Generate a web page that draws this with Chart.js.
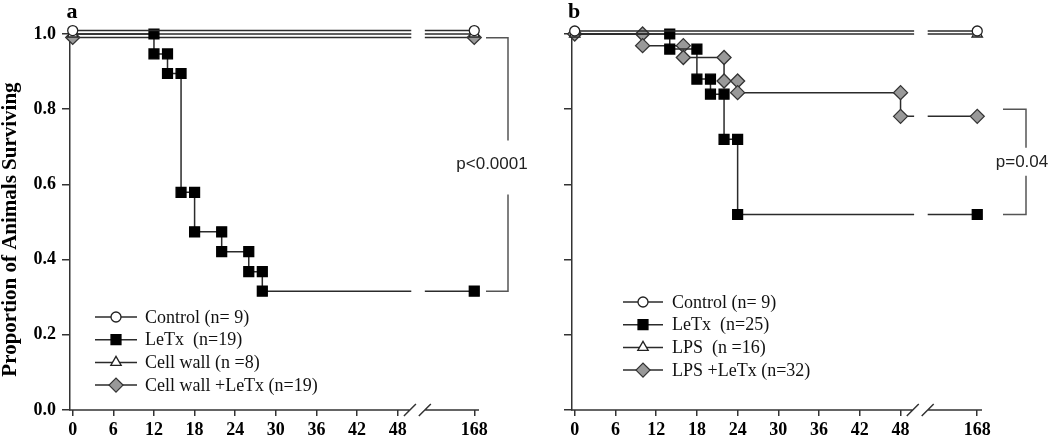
<!DOCTYPE html>
<html>
<head>
<meta charset="utf-8">
<script src="https://cdn.jsdelivr.net/npm/chart.js@4.4.1/dist/chart.umd.min.js"></script>
<style>
  body { margin: 0; background: #fff; }
  #wrap { position: relative; width: 1050px; height: 440px; }
  .panel { position: absolute; top: 0; height: 440px; }
  #pa { left: 0; width: 540px; }
  #pb { left: 525px; width: 525px; }
</style>
</head>
<body>
<div id="wrap">
  <div class="panel" id="pa"><canvas id="chartA"></canvas></div>
  <div class="panel" id="pb"><canvas id="chartB"></canvas></div>
</div>
<script>
// x axis ticks in hours (168 h sits after the axis break)
const xTickHours = [0, 6, 12, 18, 24, 30, 36, 42, 48, 168];
const yTicks = [0, 0.2, 0.4, 0.6, 0.8, 1.0];
const yTitle = 'Proportion of Animals Surviving';

// panel a
const aLabels = ['Control (n= 9)', 'LeTx  (n=19)', 'Cell wall (n =8)', 'Cell wall +LeTx (n=19)'];
const aControlHours = [0, 168];
const aControlSurv = [1.009, 1.009];
const aLetxHours = [0, 12, 12, 14, 14, 16, 16, 18, 18, 22, 22, 26, 26, 28, 28, 168];
const aLetxSurv = [1.0, 1.0, 0.947, 0.947, 0.895, 0.895, 0.579, 0.579, 0.474, 0.474, 0.421, 0.421, 0.368, 0.368, 0.316, 0.316];
const aWallHours = [0, 168];
const aWallSurv = [1.0, 1.0];
const aWallLetxHours = [0, 168];
const aWallLetxSurv = [0.991, 0.991];

// panel b
const bLabels = ['Control (n= 9)', 'LeTx  (n=25)', 'LPS  (n =16)', 'LPS +LeTx (n=32)'];
const bControlHours = [0, 168];
const bControlSurv = [1.008, 1.008];
const bLetxHours = [0, 14, 14, 18, 18, 20, 20, 22, 22, 24, 24, 168];
const bLetxSurv = [1.0, 1.0, 0.96, 0.96, 0.88, 0.88, 0.84, 0.84, 0.72, 0.72, 0.52, 0.52];
const bLpsHours = [0, 168];
const bLpsSurv = [1.0, 1.0];
const bLpsLetxHours = [0, 10, 10, 16, 16, 22, 22, 24, 24, 48, 48, 168];
const bLpsLetxSurv = [1.0, 1.0, 0.969, 0.969, 0.9375, 0.9375, 0.875, 0.875, 0.844, 0.844, 0.781, 0.781];

// broken axis: 0-48 h linear, then a gap, then 168 h
const BREAK_L = 50, BREAK_R = 52, POS_168 = 59.3;
function toAxis(h) { return h > 48 ? POS_168 : h; }

function buildPoints(hours, surv) {
    const pts = [];
    for (let i = 0; i < hours.length; i++) {
        if (i > 0 && hours[i] > 48 && hours[i - 1] <= 48) {
            pts.push({ x: BREAK_L, y: surv[i - 1], gap: true });
            pts.push({ x: 51, y: null, gap: true });
            pts.push({ x: BREAK_R, y: surv[i], gap: true });
        }
        pts.push({ x: toAxis(hours[i]), y: surv[i], idx: i });
    }
    return pts;
}

const LINE = '#2b2b2b';
const SERIF = "'Liberation Serif', 'Times New Roman', serif";
const SANS = "'Liberation Sans', Arial, sans-serif";

const styles = [
    { pointStyle: 'circle', radius: 5, fill: '#fff', stroke: '#222' },
    { pointStyle: 'rect', radius: 7, fill: '#000', stroke: '#000', skipFirst: true },
    { pointStyle: 'triangle', radius: 6, fill: '#fff', stroke: '#222' },
    { pointStyle: 'rectRot', radius: 7, fill: '#999', stroke: '#333' }
];

function makeDataset(label, hours, surv, st) {
    return {
        label: label,
        data: buildPoints(hours, surv),
        borderColor: LINE,
        borderWidth: 1.5,
        tension: 0,
        spanGaps: false,
        clip: false,
        pointStyle: st.pointStyle,
        pointBackgroundColor: st.fill,
        pointBorderColor: st.stroke,
        pointBorderWidth: 1.3,
        pointRadius: ctx => {
            const r = ctx.raw;
            if (!r || r.gap) return 0;
            if (st.skipFirst && r.idx === 0) return 0;
            return st.radius;
        },
        legendStyle: st
    };
}

function drawMarker(ctx, st, x, y) {
    ctx.fillStyle = st.fill;
    ctx.strokeStyle = st.stroke;
    ctx.lineWidth = 1.3;
    Chart.helpers.drawPoint(ctx, { pointStyle: st.pointStyle, radius: st.radius, rotation: 0, borderWidth: 1.3 }, x, y);
}

// axis break, legend, p-value bracket, axis title and panel letter
const decor = {
    id: 'decor',
    afterDatasetsDraw(chart, args, opts) {
        const { ctx, chartArea: area } = chart;
        const x = chart.scales.x, y = chart.scales.y;
        ctx.save();

        // x axis line with break
        ctx.strokeStyle = '#333';
        ctx.lineWidth = 1.5;
        const bl = x.getPixelForValue(BREAK_L - 0.2), br = x.getPixelForValue(BREAK_R);
        ctx.beginPath();
        ctx.moveTo(area.left - 1, area.bottom); ctx.lineTo(bl, area.bottom);
        ctx.moveTo(br, area.bottom); ctx.lineTo(area.right, area.bottom);
        [bl, br].forEach(px => {
            ctx.moveTo(px - 6, area.bottom + 6);
            ctx.lineTo(px + 6, area.bottom - 6);
        });
        ctx.stroke();

        // legend
        const lg = opts.legend;
        ctx.font = '18px ' + SERIF;
        ctx.textBaseline = 'middle';
        ctx.textAlign = 'left';
        chart.data.datasets.forEach((ds, i) => {
            const ry = lg.y + i * lg.dy;
            ctx.strokeStyle = LINE;
            ctx.lineWidth = 1.5;
            ctx.beginPath();
            ctx.moveTo(lg.x, ry); ctx.lineTo(lg.x + lg.w, ry);
            ctx.stroke();
            drawMarker(ctx, ds.legendStyle, lg.x + lg.w / 2, ry);
            ctx.fillStyle = '#111';
            ctx.fillText(ds.label, lg.textX, ry + 1);
        });

        // bracket with p value
        const b = opts.bracket;
        const top = y.getPixelForValue(b.top), bot = y.getPixelForValue(b.bottom);
        const mid = (top + bot) / 2;
        const x0 = area.right + b.x0, x1 = area.right + b.x1;
        ctx.strokeStyle = '#555';
        ctx.lineWidth = 1.5;
        ctx.beginPath();
        ctx.moveTo(x0, top); ctx.lineTo(x1, top); ctx.lineTo(x1, mid - b.gapUp);
        ctx.moveTo(x1, mid + b.gapDown); ctx.lineTo(x1, bot); ctx.lineTo(x0, bot);
        ctx.stroke();
        ctx.fillStyle = '#222';
        ctx.font = '17px ' + SANS;
        ctx.textAlign = 'center';
        ctx.fillText(b.text, area.right + b.textDx, mid);

        // y axis title (panel a only)
        if (opts.title) {
            ctx.save();
            ctx.translate(11, y.getPixelForValue(0.48));
            ctx.rotate(-Math.PI / 2);
            ctx.fillStyle = '#000';
            ctx.font = 'bold 21px ' + SERIF;
            ctx.fillText(opts.title, 0, 0);
            ctx.restore();
        }

        // panel letter
        ctx.fillStyle = '#000';
        ctx.font = 'bold 22px ' + SERIF;
        ctx.textAlign = 'center';
        ctx.fillText(opts.letter, area.left + 2, 12);
        ctx.restore();
    }
};

function makeChart(id, datasets, cfg) {
    return new Chart(document.getElementById(id), {
        type: 'line',
        data: { datasets: datasets },
        plugins: [decor],
        options: {
            responsive: true,
            maintainAspectRatio: false,
            animation: false,
            events: [],
            layout: { padding: { top: 34, right: cfg.padRight, bottom: 0, left: 0 } },
            plugins: {
                legend: { display: false },
                tooltip: { enabled: false },
                decor: { legend: cfg.legend, bracket: cfg.bracket, letter: cfg.letter, title: cfg.title }
            },
            scales: {
                x: {
                    type: 'linear',
                    min: -0.4,
                    max: 60,
                    afterBuildTicks: s => { s.ticks = xTickHours.map(h => ({ value: toAxis(h) })); },
                    afterFit: s => { s.height = 30; },
                    ticks: {
                        autoSkip: false,
                        maxRotation: 0,
                        padding: 4,
                        color: '#000',
                        font: { family: SERIF, size: 18, weight: 'bold' },
                        callback: (v, i) => String(xTickHours[i])
                    },
                    grid: { drawOnChartArea: false, drawTicks: true, tickLength: 6, color: '#333', lineWidth: 1.5 },
                    border: { display: false }
                },
                y: {
                    min: 0,
                    max: 1.0,
                    afterBuildTicks: s => { s.ticks = yTicks.map(v => ({ value: v })); },
                    afterFit: s => { s.width = cfg.yWidth; },
                    ticks: {
                        padding: 6,
                        color: '#000',
                        font: { family: SERIF, size: 18, weight: 'bold' },
                        callback: v => cfg.title ? v.toFixed(1) : ''
                    },
                    grid: { drawOnChartArea: false, drawTicks: true, tickLength: 8, color: '#333', lineWidth: 1.5 },
                    border: { display: true, color: '#333', width: 1.5 }
                }
            }
        }
    });
}

makeChart('chartA', [
    makeDataset(aLabels[0], aControlHours, aControlSurv, styles[0]),
    makeDataset(aLabels[1], aLetxHours, aLetxSurv, styles[1]),
    makeDataset(aLabels[2], aWallHours, aWallSurv, styles[2]),
    makeDataset(aLabels[3], aWallLetxHours, aWallLetxSurv, styles[3])
], {
    padRight: 61, yWidth: 70, title: yTitle, letter: 'a',
    legend: { x: 95, y: 317, dy: 22.7, w: 42, textX: 145 },
    bracket: { top: 0.99, bottom: 0.316, x0: 7, x1: 29, textDx: 13, gapUp: 24, gapDown: 30, text: 'p<0.0001' }
});

makeChart('chartB', [
    makeDataset(bLabels[0], bControlHours, bControlSurv, styles[0]),
    makeDataset(bLabels[1], bLetxHours, bLetxSurv, styles[1]),
    makeDataset(bLabels[2], bLpsHours, bLpsSurv, styles[2]),
    makeDataset(bLabels[3], bLpsLetxHours, bLpsLetxSurv, styles[3])
], {
    padRight: 68, yWidth: 47, title: '', letter: 'b',
    legend: { x: 98, y: 302, dy: 22.7, w: 40, textX: 147 },
    bracket: { top: 0.80, bottom: 0.52, x0: 21, x1: 44, textDx: 40, gapUp: 14, gapDown: 14, text: 'p=0.04' }
});
</script>
</body>
</html>
